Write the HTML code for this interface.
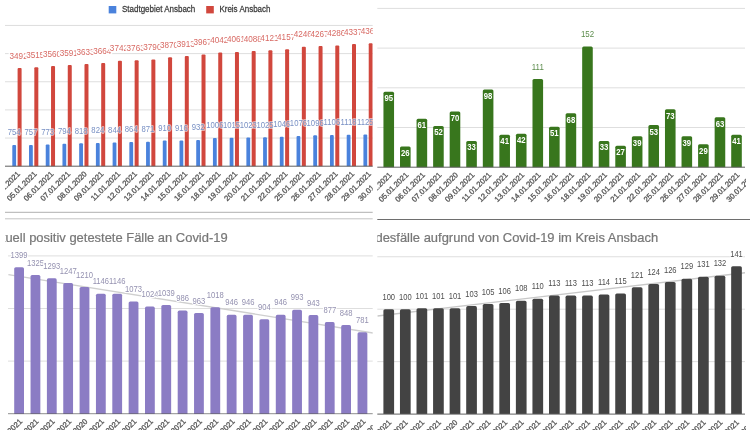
<!DOCTYPE html>
<html><head><meta charset="utf-8"><title>Covid-19 Ansbach</title>
<style>html,body{margin:0;padding:0;background:#fff;}body{width:750px;height:430px;overflow:hidden;}svg{display:block;filter:blur(0.5px);font-family:'Liberation Sans', Arial, sans-serif;}</style></head>
<body>
<svg width="750" height="430" viewBox="0 0 750 430">
<defs><clipPath id="cTL"><rect x="5" y="0" width="367.7" height="211"/></clipPath><clipPath id="cTR"><rect x="377.3" y="0" width="368.7" height="212"/></clipPath><clipPath id="cBL"><rect x="5" y="222" width="367.7" height="208"/></clipPath><clipPath id="cBR"><rect x="377.3" y="222" width="368.7" height="208"/></clipPath></defs>
<rect x="0" y="0" width="750" height="430" fill="#fff"/>
<g clip-path="url(#cTL)">
<rect x="108.7" y="6" width="7.6" height="7.4" fill="#4a82dc"/>
<text transform="translate(122,12.4) scale(0.89,1)" font-size="9" fill="#3a3a3a" text-anchor="start" stroke="#3a3a3a" stroke-width="0.25">Stadtgebiet Ansbach</text>
<rect x="206.2" y="6" width="7.6" height="7.4" fill="#d1473d"/>
<text transform="translate(219.4,12.4) scale(0.89,1)" font-size="9" fill="#3a3a3a" text-anchor="start" stroke="#3a3a3a" stroke-width="0.25">Kreis Ansbach</text>
<line x1="5" y1="138.05" x2="373" y2="138.05" stroke="#dedede" stroke-width="1"/>
<line x1="5" y1="109.9" x2="373" y2="109.9" stroke="#dedede" stroke-width="1"/>
<line x1="5" y1="81.75" x2="373" y2="81.75" stroke="#dedede" stroke-width="1"/>
<line x1="5" y1="53.6" x2="373" y2="53.6" stroke="#dedede" stroke-width="1"/>
<line x1="5" y1="25.45" x2="373" y2="25.45" stroke="#dedede" stroke-width="1"/>
<path d="M12.3,166.2V145.97Q12.3,144.97 13.3,144.97H15.1Q16.1,144.97 16.1,145.97V166.2Z" fill="#4a82dc"/>
<path d="M17.6,166.2V68.9Q17.6,67.9 18.6,67.9H20.6Q21.6,67.9 21.6,68.9V166.2Z" fill="#d1473d"/>
<path d="M29.02,166.2V145.89Q29.02,144.89 30.02,144.89H31.82Q32.82,144.89 32.82,145.89V166.2Z" fill="#4a82dc"/>
<path d="M34.32,166.2V68.25Q34.32,67.25 35.32,67.25H37.32Q38.32,67.25 38.32,68.25V166.2Z" fill="#d1473d"/>
<path d="M45.74,166.2V145.44Q45.74,144.44 46.74,144.44H48.54Q49.54,144.44 49.54,145.44V166.2Z" fill="#4a82dc"/>
<path d="M51.04,166.2V66.99Q51.04,65.99 52.04,65.99H54.04Q55.04,65.99 55.04,66.99V166.2Z" fill="#d1473d"/>
<path d="M62.46,166.2V144.85Q62.46,143.85 63.46,143.85H65.26Q66.26,143.85 66.26,144.85V166.2Z" fill="#4a82dc"/>
<path d="M67.76,166.2V66.11Q67.76,65.11 68.76,65.11H70.76Q71.76,65.11 71.76,66.11V166.2Z" fill="#d1473d"/>
<path d="M79.18,166.2V144.17Q79.18,143.17 80.18,143.17H81.98Q82.98,143.17 82.98,144.17V166.2Z" fill="#4a82dc"/>
<path d="M84.48,166.2V64.93Q84.48,63.93 85.48,63.93H87.48Q88.48,63.93 88.48,64.93V166.2Z" fill="#d1473d"/>
<path d="M95.9,166.2V144Q95.9,143 96.9,143H98.7Q99.7,143 99.7,144V166.2Z" fill="#4a82dc"/>
<path d="M101.2,166.2V64.06Q101.2,63.06 102.2,63.06H104.2Q105.2,63.06 105.2,64.06V166.2Z" fill="#d1473d"/>
<path d="M112.62,166.2V143.44Q112.62,142.44 113.62,142.44H115.42Q116.42,142.44 116.42,143.44V166.2Z" fill="#4a82dc"/>
<path d="M117.92,166.2V61.86Q117.92,60.86 118.92,60.86H120.92Q121.92,60.86 121.92,61.86V166.2Z" fill="#d1473d"/>
<path d="M129.34,166.2V142.88Q129.34,141.88 130.34,141.88H132.14Q133.14,141.88 133.14,142.88V166.2Z" fill="#4a82dc"/>
<path d="M134.64,166.2V61.27Q134.64,60.27 135.64,60.27H137.64Q138.64,60.27 138.64,61.27V166.2Z" fill="#d1473d"/>
<path d="M146.06,166.2V142.68Q146.06,141.68 147.06,141.68H148.86Q149.86,141.68 149.86,142.68V166.2Z" fill="#4a82dc"/>
<path d="M151.36,166.2V60.51Q151.36,59.51 152.36,59.51H154.36Q155.36,59.51 155.36,60.51V166.2Z" fill="#d1473d"/>
<path d="M162.78,166.2V141.58Q162.78,140.58 163.78,140.58H165.58Q166.58,140.58 166.58,141.58V166.2Z" fill="#4a82dc"/>
<path d="M168.08,166.2V58.26Q168.08,57.26 169.08,57.26H171.08Q172.08,57.26 172.08,58.26V166.2Z" fill="#d1473d"/>
<path d="M179.5,166.2V141.41Q179.5,140.41 180.5,140.41H182.3Q183.3,140.41 183.3,141.41V166.2Z" fill="#4a82dc"/>
<path d="M184.8,166.2V57.05Q184.8,56.05 185.8,56.05H187.8Q188.8,56.05 188.8,57.05V166.2Z" fill="#d1473d"/>
<path d="M196.22,166.2V140.96Q196.22,139.96 197.22,139.96H199.02Q200.02,139.96 200.02,140.96V166.2Z" fill="#4a82dc"/>
<path d="M201.52,166.2V55.53Q201.52,54.53 202.52,54.53H204.52Q205.52,54.53 205.52,55.53V166.2Z" fill="#d1473d"/>
<path d="M212.94,166.2V138.88Q212.94,137.88 213.94,137.88H215.74Q216.74,137.88 216.74,138.88V166.2Z" fill="#4a82dc"/>
<path d="M218.24,166.2V53.42Q218.24,52.42 219.24,52.42H221.24Q222.24,52.42 222.24,53.42V166.2Z" fill="#d1473d"/>
<path d="M229.66,166.2V138.63Q229.66,137.63 230.66,137.63H232.46Q233.46,137.63 233.46,138.63V166.2Z" fill="#4a82dc"/>
<path d="M234.96,166.2V52.88Q234.96,51.88 235.96,51.88H237.96Q238.96,51.88 238.96,52.88V166.2Z" fill="#d1473d"/>
<path d="M246.38,166.2V138.4Q246.38,137.4 247.38,137.4H249.18Q250.18,137.4 250.18,138.4V166.2Z" fill="#4a82dc"/>
<path d="M251.68,166.2V52.12Q251.68,51.12 252.68,51.12H254.68Q255.68,51.12 255.68,52.12V166.2Z" fill="#d1473d"/>
<path d="M263.1,166.2V138.35Q263.1,137.35 264.1,137.35H265.9Q266.9,137.35 266.9,138.35V166.2Z" fill="#4a82dc"/>
<path d="M268.4,166.2V51.19Q268.4,50.19 269.4,50.19H271.4Q272.4,50.19 272.4,51.19V166.2Z" fill="#d1473d"/>
<path d="M279.82,166.2V137.76Q279.82,136.76 280.82,136.76H282.62Q283.62,136.76 283.62,137.76V166.2Z" fill="#4a82dc"/>
<path d="M285.12,166.2V50.18Q285.12,49.18 286.12,49.18H288.12Q289.12,49.18 289.12,50.18V166.2Z" fill="#d1473d"/>
<path d="M296.54,166.2V136.91Q296.54,135.91 297.54,135.91H299.34Q300.34,135.91 300.34,136.91V166.2Z" fill="#4a82dc"/>
<path d="M301.84,166.2V47.68Q301.84,46.68 302.84,46.68H304.84Q305.84,46.68 305.84,47.68V166.2Z" fill="#d1473d"/>
<path d="M313.26,166.2V136.35Q313.26,135.35 314.26,135.35H316.06Q317.06,135.35 317.06,136.35V166.2Z" fill="#4a82dc"/>
<path d="M318.56,166.2V47.08Q318.56,46.08 319.56,46.08H321.56Q322.56,46.08 322.56,47.08V166.2Z" fill="#d1473d"/>
<path d="M329.98,166.2V136.07Q329.98,135.07 330.98,135.07H332.78Q333.78,135.07 333.78,136.07V166.2Z" fill="#4a82dc"/>
<path d="M335.28,166.2V46.55Q335.28,45.55 336.28,45.55H338.28Q339.28,45.55 339.28,46.55V166.2Z" fill="#d1473d"/>
<path d="M346.7,166.2V135.73Q346.7,134.73 347.7,134.73H349.5Q350.5,134.73 350.5,135.73V166.2Z" fill="#4a82dc"/>
<path d="M352,166.2V45.11Q352,44.11 353,44.11H355Q356,44.11 356,45.11V166.2Z" fill="#d1473d"/>
<path d="M363.42,166.2V135.53Q363.42,134.53 364.42,134.53H366.22Q367.22,134.53 367.22,135.53V166.2Z" fill="#4a82dc"/>
<path d="M368.72,166.2V44.3Q368.72,43.3 369.72,43.3H371.72Q372.72,43.3 372.72,44.3V166.2Z" fill="#d1473d"/>
<line x1="5" y1="166.2" x2="373" y2="166.2" stroke="#5f5f5f" stroke-width="1"/>
<text transform="translate(18.6,58.5) scale(0.97,1)" font-size="8.4" fill="#d86a64" text-anchor="middle" stroke="#fff" stroke-width="3" stroke-opacity="0.9" paint-order="stroke" stroke-linejoin="round">3492</text>
<text transform="translate(35.32,57.85) scale(0.97,1)" font-size="8.4" fill="#d86a64" text-anchor="middle" stroke="#fff" stroke-width="3" stroke-opacity="0.9" paint-order="stroke" stroke-linejoin="round">3515</text>
<text transform="translate(52.04,56.59) scale(0.97,1)" font-size="8.4" fill="#d86a64" text-anchor="middle" stroke="#fff" stroke-width="3" stroke-opacity="0.9" paint-order="stroke" stroke-linejoin="round">3560</text>
<text transform="translate(68.76,55.71) scale(0.97,1)" font-size="8.4" fill="#d86a64" text-anchor="middle" stroke="#fff" stroke-width="3" stroke-opacity="0.9" paint-order="stroke" stroke-linejoin="round">3591</text>
<text transform="translate(85.48,54.53) scale(0.97,1)" font-size="8.4" fill="#d86a64" text-anchor="middle" stroke="#fff" stroke-width="3" stroke-opacity="0.9" paint-order="stroke" stroke-linejoin="round">3633</text>
<text transform="translate(102.2,53.66) scale(0.97,1)" font-size="8.4" fill="#d86a64" text-anchor="middle" stroke="#fff" stroke-width="3" stroke-opacity="0.9" paint-order="stroke" stroke-linejoin="round">3664</text>
<text transform="translate(118.92,51.46) scale(0.97,1)" font-size="8.4" fill="#d86a64" text-anchor="middle" stroke="#fff" stroke-width="3" stroke-opacity="0.9" paint-order="stroke" stroke-linejoin="round">3742</text>
<text transform="translate(135.64,50.87) scale(0.97,1)" font-size="8.4" fill="#d86a64" text-anchor="middle" stroke="#fff" stroke-width="3" stroke-opacity="0.9" paint-order="stroke" stroke-linejoin="round">3763</text>
<text transform="translate(152.36,50.11) scale(0.97,1)" font-size="8.4" fill="#d86a64" text-anchor="middle" stroke="#fff" stroke-width="3" stroke-opacity="0.9" paint-order="stroke" stroke-linejoin="round">3790</text>
<text transform="translate(169.08,47.86) scale(0.97,1)" font-size="8.4" fill="#d86a64" text-anchor="middle" stroke="#fff" stroke-width="3" stroke-opacity="0.9" paint-order="stroke" stroke-linejoin="round">3870</text>
<text transform="translate(185.8,46.65) scale(0.97,1)" font-size="8.4" fill="#d86a64" text-anchor="middle" stroke="#fff" stroke-width="3" stroke-opacity="0.9" paint-order="stroke" stroke-linejoin="round">3913</text>
<text transform="translate(202.52,45.13) scale(0.97,1)" font-size="8.4" fill="#d86a64" text-anchor="middle" stroke="#fff" stroke-width="3" stroke-opacity="0.9" paint-order="stroke" stroke-linejoin="round">3967</text>
<text transform="translate(219.24,43.02) scale(0.97,1)" font-size="8.4" fill="#d86a64" text-anchor="middle" stroke="#fff" stroke-width="3" stroke-opacity="0.9" paint-order="stroke" stroke-linejoin="round">4042</text>
<text transform="translate(235.96,42.48) scale(0.97,1)" font-size="8.4" fill="#d86a64" text-anchor="middle" stroke="#fff" stroke-width="3" stroke-opacity="0.9" paint-order="stroke" stroke-linejoin="round">4061</text>
<text transform="translate(252.68,41.72) scale(0.97,1)" font-size="8.4" fill="#d86a64" text-anchor="middle" stroke="#fff" stroke-width="3" stroke-opacity="0.9" paint-order="stroke" stroke-linejoin="round">4088</text>
<text transform="translate(269.4,40.79) scale(0.97,1)" font-size="8.4" fill="#d86a64" text-anchor="middle" stroke="#fff" stroke-width="3" stroke-opacity="0.9" paint-order="stroke" stroke-linejoin="round">4121</text>
<text transform="translate(286.12,39.78) scale(0.97,1)" font-size="8.4" fill="#d86a64" text-anchor="middle" stroke="#fff" stroke-width="3" stroke-opacity="0.9" paint-order="stroke" stroke-linejoin="round">4157</text>
<text transform="translate(302.84,37.28) scale(0.97,1)" font-size="8.4" fill="#d86a64" text-anchor="middle" stroke="#fff" stroke-width="3" stroke-opacity="0.9" paint-order="stroke" stroke-linejoin="round">4246</text>
<text transform="translate(319.56,36.68) scale(0.97,1)" font-size="8.4" fill="#d86a64" text-anchor="middle" stroke="#fff" stroke-width="3" stroke-opacity="0.9" paint-order="stroke" stroke-linejoin="round">4267</text>
<text transform="translate(336.28,36.15) scale(0.97,1)" font-size="8.4" fill="#d86a64" text-anchor="middle" stroke="#fff" stroke-width="3" stroke-opacity="0.9" paint-order="stroke" stroke-linejoin="round">4286</text>
<text transform="translate(353,34.71) scale(0.97,1)" font-size="8.4" fill="#d86a64" text-anchor="middle" stroke="#fff" stroke-width="3" stroke-opacity="0.9" paint-order="stroke" stroke-linejoin="round">4337</text>
<text transform="translate(369.72,33.9) scale(0.97,1)" font-size="8.4" fill="#d86a64" text-anchor="middle" stroke="#fff" stroke-width="3" stroke-opacity="0.9" paint-order="stroke" stroke-linejoin="round">4366</text>
<text transform="translate(14.2,135.37) scale(0.92,1)" font-size="8.4" fill="#7890c4" text-anchor="middle" stroke="#fff" stroke-width="2" stroke-opacity="0.55" paint-order="stroke" stroke-linejoin="round">754</text>
<text transform="translate(30.92,135.29) scale(0.92,1)" font-size="8.4" fill="#7890c4" text-anchor="middle" stroke="#fff" stroke-width="2" stroke-opacity="0.55" paint-order="stroke" stroke-linejoin="round">757</text>
<text transform="translate(47.64,134.84) scale(0.92,1)" font-size="8.4" fill="#7890c4" text-anchor="middle" stroke="#fff" stroke-width="2" stroke-opacity="0.55" paint-order="stroke" stroke-linejoin="round">773</text>
<text transform="translate(64.36,134.25) scale(0.92,1)" font-size="8.4" fill="#7890c4" text-anchor="middle" stroke="#fff" stroke-width="2" stroke-opacity="0.55" paint-order="stroke" stroke-linejoin="round">794</text>
<text transform="translate(81.08,133.57) scale(0.92,1)" font-size="8.4" fill="#7890c4" text-anchor="middle" stroke="#fff" stroke-width="2" stroke-opacity="0.55" paint-order="stroke" stroke-linejoin="round">818</text>
<text transform="translate(97.8,133.4) scale(0.92,1)" font-size="8.4" fill="#7890c4" text-anchor="middle" stroke="#fff" stroke-width="2" stroke-opacity="0.55" paint-order="stroke" stroke-linejoin="round">824</text>
<text transform="translate(114.52,132.84) scale(0.92,1)" font-size="8.4" fill="#7890c4" text-anchor="middle" stroke="#fff" stroke-width="2" stroke-opacity="0.55" paint-order="stroke" stroke-linejoin="round">844</text>
<text transform="translate(131.24,132.28) scale(0.92,1)" font-size="8.4" fill="#7890c4" text-anchor="middle" stroke="#fff" stroke-width="2" stroke-opacity="0.55" paint-order="stroke" stroke-linejoin="round">864</text>
<text transform="translate(147.96,132.08) scale(0.92,1)" font-size="8.4" fill="#7890c4" text-anchor="middle" stroke="#fff" stroke-width="2" stroke-opacity="0.55" paint-order="stroke" stroke-linejoin="round">871</text>
<text transform="translate(164.68,130.98) scale(0.92,1)" font-size="8.4" fill="#7890c4" text-anchor="middle" stroke="#fff" stroke-width="2" stroke-opacity="0.55" paint-order="stroke" stroke-linejoin="round">910</text>
<text transform="translate(181.4,130.81) scale(0.92,1)" font-size="8.4" fill="#7890c4" text-anchor="middle" stroke="#fff" stroke-width="2" stroke-opacity="0.55" paint-order="stroke" stroke-linejoin="round">916</text>
<text transform="translate(198.12,130.36) scale(0.92,1)" font-size="8.4" fill="#7890c4" text-anchor="middle" stroke="#fff" stroke-width="2" stroke-opacity="0.55" paint-order="stroke" stroke-linejoin="round">932</text>
<text transform="translate(214.84,128.28) scale(0.92,1)" font-size="8.4" fill="#7890c4" text-anchor="middle" stroke="#fff" stroke-width="2" stroke-opacity="0.55" paint-order="stroke" stroke-linejoin="round">1006</text>
<text transform="translate(231.56,128.03) scale(0.92,1)" font-size="8.4" fill="#7890c4" text-anchor="middle" stroke="#fff" stroke-width="2" stroke-opacity="0.55" paint-order="stroke" stroke-linejoin="round">1015</text>
<text transform="translate(248.28,127.8) scale(0.92,1)" font-size="8.4" fill="#7890c4" text-anchor="middle" stroke="#fff" stroke-width="2" stroke-opacity="0.55" paint-order="stroke" stroke-linejoin="round">1023</text>
<text transform="translate(265,127.75) scale(0.92,1)" font-size="8.4" fill="#7890c4" text-anchor="middle" stroke="#fff" stroke-width="2" stroke-opacity="0.55" paint-order="stroke" stroke-linejoin="round">1025</text>
<text transform="translate(281.72,127.16) scale(0.92,1)" font-size="8.4" fill="#7890c4" text-anchor="middle" stroke="#fff" stroke-width="2" stroke-opacity="0.55" paint-order="stroke" stroke-linejoin="round">1046</text>
<text transform="translate(298.44,126.31) scale(0.92,1)" font-size="8.4" fill="#7890c4" text-anchor="middle" stroke="#fff" stroke-width="2" stroke-opacity="0.55" paint-order="stroke" stroke-linejoin="round">1076</text>
<text transform="translate(315.16,125.75) scale(0.92,1)" font-size="8.4" fill="#7890c4" text-anchor="middle" stroke="#fff" stroke-width="2" stroke-opacity="0.55" paint-order="stroke" stroke-linejoin="round">1096</text>
<text transform="translate(331.88,125.47) scale(0.92,1)" font-size="8.4" fill="#7890c4" text-anchor="middle" stroke="#fff" stroke-width="2" stroke-opacity="0.55" paint-order="stroke" stroke-linejoin="round">1106</text>
<text transform="translate(348.6,125.13) scale(0.92,1)" font-size="8.4" fill="#7890c4" text-anchor="middle" stroke="#fff" stroke-width="2" stroke-opacity="0.55" paint-order="stroke" stroke-linejoin="round">1118</text>
<text transform="translate(365.32,124.93) scale(0.92,1)" font-size="8.4" fill="#7890c4" text-anchor="middle" stroke="#fff" stroke-width="2" stroke-opacity="0.55" paint-order="stroke" stroke-linejoin="round">1125</text>
<text transform="translate(20.5,174.4) rotate(-45)" font-size="7.7" fill="#555555" stroke="#555555" stroke-width="0.3" text-anchor="end">04.01.2021</text>
<text transform="translate(37.22,174.4) rotate(-45)" font-size="7.7" fill="#555555" stroke="#555555" stroke-width="0.3" text-anchor="end">05.01.2021</text>
<text transform="translate(53.94,174.4) rotate(-45)" font-size="7.7" fill="#555555" stroke="#555555" stroke-width="0.3" text-anchor="end">06.01.2021</text>
<text transform="translate(70.66,174.4) rotate(-45)" font-size="7.7" fill="#555555" stroke="#555555" stroke-width="0.3" text-anchor="end">07.01.2021</text>
<text transform="translate(87.38,174.4) rotate(-45)" font-size="7.7" fill="#555555" stroke="#555555" stroke-width="0.3" text-anchor="end">08.01.2020</text>
<text transform="translate(104.1,174.4) rotate(-45)" font-size="7.7" fill="#555555" stroke="#555555" stroke-width="0.3" text-anchor="end">09.01.2021</text>
<text transform="translate(120.82,174.4) rotate(-45)" font-size="7.7" fill="#555555" stroke="#555555" stroke-width="0.3" text-anchor="end">11.01.2021</text>
<text transform="translate(137.54,174.4) rotate(-45)" font-size="7.7" fill="#555555" stroke="#555555" stroke-width="0.3" text-anchor="end">12.01.2021</text>
<text transform="translate(154.26,174.4) rotate(-45)" font-size="7.7" fill="#555555" stroke="#555555" stroke-width="0.3" text-anchor="end">13.01.2021</text>
<text transform="translate(170.98,174.4) rotate(-45)" font-size="7.7" fill="#555555" stroke="#555555" stroke-width="0.3" text-anchor="end">14.01.2021</text>
<text transform="translate(187.7,174.4) rotate(-45)" font-size="7.7" fill="#555555" stroke="#555555" stroke-width="0.3" text-anchor="end">15.01.2021</text>
<text transform="translate(204.42,174.4) rotate(-45)" font-size="7.7" fill="#555555" stroke="#555555" stroke-width="0.3" text-anchor="end">16.01.2021</text>
<text transform="translate(221.14,174.4) rotate(-45)" font-size="7.7" fill="#555555" stroke="#555555" stroke-width="0.3" text-anchor="end">18.01.2021</text>
<text transform="translate(237.86,174.4) rotate(-45)" font-size="7.7" fill="#555555" stroke="#555555" stroke-width="0.3" text-anchor="end">19.01.2021</text>
<text transform="translate(254.58,174.4) rotate(-45)" font-size="7.7" fill="#555555" stroke="#555555" stroke-width="0.3" text-anchor="end">20.01.2021</text>
<text transform="translate(271.3,174.4) rotate(-45)" font-size="7.7" fill="#555555" stroke="#555555" stroke-width="0.3" text-anchor="end">21.01.2021</text>
<text transform="translate(288.02,174.4) rotate(-45)" font-size="7.7" fill="#555555" stroke="#555555" stroke-width="0.3" text-anchor="end">22.01.2021</text>
<text transform="translate(304.74,174.4) rotate(-45)" font-size="7.7" fill="#555555" stroke="#555555" stroke-width="0.3" text-anchor="end">25.01.2021</text>
<text transform="translate(321.46,174.4) rotate(-45)" font-size="7.7" fill="#555555" stroke="#555555" stroke-width="0.3" text-anchor="end">26.01.2021</text>
<text transform="translate(338.18,174.4) rotate(-45)" font-size="7.7" fill="#555555" stroke="#555555" stroke-width="0.3" text-anchor="end">27.01.2021</text>
<text transform="translate(354.9,174.4) rotate(-45)" font-size="7.7" fill="#555555" stroke="#555555" stroke-width="0.3" text-anchor="end">28.01.2021</text>
<text transform="translate(371.62,174.4) rotate(-45)" font-size="7.7" fill="#555555" stroke="#555555" stroke-width="0.3" text-anchor="end">29.01.2021</text>
<text transform="translate(388.34,174.4) rotate(-45)" font-size="7.7" fill="#555555" stroke="#555555" stroke-width="0.3" text-anchor="end">30.01.2021</text>
</g>
<g clip-path="url(#cTR)">
<line x1="377" y1="127.5" x2="745" y2="127.5" stroke="#dedede" stroke-width="1"/>
<line x1="377" y1="87.8" x2="745" y2="87.8" stroke="#dedede" stroke-width="1"/>
<line x1="377" y1="48.1" x2="745" y2="48.1" stroke="#dedede" stroke-width="1"/>
<line x1="377" y1="8.4" x2="745" y2="8.4" stroke="#dedede" stroke-width="1"/>
<path d="M383.45,167.2V93.27Q383.45,91.77 384.95,91.77H392.55Q394.05,91.77 394.05,93.27V167.2Z" fill="#38761d"/>
<path d="M400.01,167.2V148.06Q400.01,146.56 401.51,146.56H409.11Q410.61,146.56 410.61,148.06V167.2Z" fill="#38761d"/>
<path d="M416.57,167.2V120.27Q416.57,118.77 418.07,118.77H425.67Q427.17,118.77 427.17,120.27V167.2Z" fill="#38761d"/>
<path d="M433.13,167.2V127.41Q433.13,125.91 434.63,125.91H442.23Q443.73,125.91 443.73,127.41V167.2Z" fill="#38761d"/>
<path d="M449.69,167.2V113.12Q449.69,111.62 451.19,111.62H458.79Q460.29,111.62 460.29,113.12V167.2Z" fill="#38761d"/>
<path d="M466.25,167.2V142.5Q466.25,141 467.75,141H475.35Q476.85,141 476.85,142.5V167.2Z" fill="#38761d"/>
<path d="M482.81,167.2V90.89Q482.81,89.39 484.31,89.39H491.91Q493.41,89.39 493.41,90.89V167.2Z" fill="#38761d"/>
<path d="M499.37,167.2V136.15Q499.37,134.65 500.87,134.65H508.47Q509.97,134.65 509.97,136.15V167.2Z" fill="#38761d"/>
<path d="M515.93,167.2V135.35Q515.93,133.85 517.43,133.85H525.03Q526.53,133.85 526.53,135.35V167.2Z" fill="#38761d"/>
<path d="M532.49,167.2V80.57Q532.49,79.07 533.99,79.07H541.59Q543.09,79.07 543.09,80.57V167.2Z" fill="#38761d"/>
<path d="M549.05,167.2V128.21Q549.05,126.71 550.55,126.71H558.15Q559.65,126.71 559.65,128.21V167.2Z" fill="#38761d"/>
<path d="M565.61,167.2V114.71Q565.61,113.21 567.11,113.21H574.71Q576.21,113.21 576.21,114.71V167.2Z" fill="#38761d"/>
<path d="M582.17,167.2V48.01Q582.17,46.51 583.67,46.51H591.27Q592.77,46.51 592.77,48.01V167.2Z" fill="#38761d"/>
<path d="M598.73,167.2V142.5Q598.73,141 600.23,141H607.83Q609.33,141 609.33,142.5V167.2Z" fill="#38761d"/>
<path d="M615.29,167.2V147.26Q615.29,145.76 616.79,145.76H624.39Q625.89,145.76 625.89,147.26V167.2Z" fill="#38761d"/>
<path d="M631.85,167.2V137.73Q631.85,136.23 633.35,136.23H640.95Q642.45,136.23 642.45,137.73V167.2Z" fill="#38761d"/>
<path d="M648.41,167.2V126.62Q648.41,125.12 649.91,125.12H657.51Q659.01,125.12 659.01,126.62V167.2Z" fill="#38761d"/>
<path d="M664.97,167.2V110.74Q664.97,109.24 666.47,109.24H674.07Q675.57,109.24 675.57,110.74V167.2Z" fill="#38761d"/>
<path d="M681.53,167.2V137.73Q681.53,136.23 683.03,136.23H690.63Q692.13,136.23 692.13,137.73V167.2Z" fill="#38761d"/>
<path d="M698.09,167.2V145.67Q698.09,144.17 699.59,144.17H707.19Q708.69,144.17 708.69,145.67V167.2Z" fill="#38761d"/>
<path d="M714.65,167.2V118.68Q714.65,117.18 716.15,117.18H723.75Q725.25,117.18 725.25,118.68V167.2Z" fill="#38761d"/>
<path d="M731.21,167.2V136.15Q731.21,134.65 732.71,134.65H740.31Q741.81,134.65 741.81,136.15V167.2Z" fill="#38761d"/>
<line x1="377" y1="167.2" x2="745" y2="167.2" stroke="#5f5f5f" stroke-width="1"/>
<text transform="translate(388.75,101.17) scale(0.9,1)" font-size="8.6" fill="#ffffff" text-anchor="middle" font-weight="bold">95</text>
<text transform="translate(405.31,155.96) scale(0.9,1)" font-size="8.6" fill="#ffffff" text-anchor="middle" font-weight="bold">26</text>
<text transform="translate(421.87,128.17) scale(0.9,1)" font-size="8.6" fill="#ffffff" text-anchor="middle" font-weight="bold">61</text>
<text transform="translate(438.43,135.31) scale(0.9,1)" font-size="8.6" fill="#ffffff" text-anchor="middle" font-weight="bold">52</text>
<text transform="translate(454.99,121.02) scale(0.9,1)" font-size="8.6" fill="#ffffff" text-anchor="middle" font-weight="bold">70</text>
<text transform="translate(471.55,150.4) scale(0.9,1)" font-size="8.6" fill="#ffffff" text-anchor="middle" font-weight="bold">33</text>
<text transform="translate(488.11,98.79) scale(0.9,1)" font-size="8.6" fill="#ffffff" text-anchor="middle" font-weight="bold">98</text>
<text transform="translate(504.67,144.05) scale(0.9,1)" font-size="8.6" fill="#ffffff" text-anchor="middle" font-weight="bold">41</text>
<text transform="translate(521.23,143.25) scale(0.9,1)" font-size="8.6" fill="#ffffff" text-anchor="middle" font-weight="bold">42</text>
<text transform="translate(537.79,69.87) scale(0.92,1)" font-size="8.6" fill="#5c8c4c" text-anchor="middle">111</text>
<text transform="translate(554.35,136.11) scale(0.9,1)" font-size="8.6" fill="#ffffff" text-anchor="middle" font-weight="bold">51</text>
<text transform="translate(570.91,122.61) scale(0.9,1)" font-size="8.6" fill="#ffffff" text-anchor="middle" font-weight="bold">68</text>
<text transform="translate(587.47,37.31) scale(0.92,1)" font-size="8.6" fill="#5c8c4c" text-anchor="middle">152</text>
<text transform="translate(604.03,150.4) scale(0.9,1)" font-size="8.6" fill="#ffffff" text-anchor="middle" font-weight="bold">33</text>
<text transform="translate(620.59,155.16) scale(0.9,1)" font-size="8.6" fill="#ffffff" text-anchor="middle" font-weight="bold">27</text>
<text transform="translate(637.15,145.63) scale(0.9,1)" font-size="8.6" fill="#ffffff" text-anchor="middle" font-weight="bold">39</text>
<text transform="translate(653.71,134.52) scale(0.9,1)" font-size="8.6" fill="#ffffff" text-anchor="middle" font-weight="bold">53</text>
<text transform="translate(670.27,118.64) scale(0.9,1)" font-size="8.6" fill="#ffffff" text-anchor="middle" font-weight="bold">73</text>
<text transform="translate(686.83,145.63) scale(0.9,1)" font-size="8.6" fill="#ffffff" text-anchor="middle" font-weight="bold">39</text>
<text transform="translate(703.39,153.57) scale(0.9,1)" font-size="8.6" fill="#ffffff" text-anchor="middle" font-weight="bold">29</text>
<text transform="translate(719.95,126.58) scale(0.9,1)" font-size="8.6" fill="#ffffff" text-anchor="middle" font-weight="bold">63</text>
<text transform="translate(736.51,144.05) scale(0.9,1)" font-size="8.6" fill="#ffffff" text-anchor="middle" font-weight="bold">41</text>
<text transform="translate(392.35,175.4) rotate(-45)" font-size="7.7" fill="#555555" stroke="#555555" stroke-width="0.3" text-anchor="end">04.01.2021</text>
<text transform="translate(408.91,175.4) rotate(-45)" font-size="7.7" fill="#555555" stroke="#555555" stroke-width="0.3" text-anchor="end">05.01.2021</text>
<text transform="translate(425.47,175.4) rotate(-45)" font-size="7.7" fill="#555555" stroke="#555555" stroke-width="0.3" text-anchor="end">06.01.2021</text>
<text transform="translate(442.03,175.4) rotate(-45)" font-size="7.7" fill="#555555" stroke="#555555" stroke-width="0.3" text-anchor="end">07.01.2021</text>
<text transform="translate(458.59,175.4) rotate(-45)" font-size="7.7" fill="#555555" stroke="#555555" stroke-width="0.3" text-anchor="end">08.01.2020</text>
<text transform="translate(475.15,175.4) rotate(-45)" font-size="7.7" fill="#555555" stroke="#555555" stroke-width="0.3" text-anchor="end">09.01.2021</text>
<text transform="translate(491.71,175.4) rotate(-45)" font-size="7.7" fill="#555555" stroke="#555555" stroke-width="0.3" text-anchor="end">11.01.2021</text>
<text transform="translate(508.27,175.4) rotate(-45)" font-size="7.7" fill="#555555" stroke="#555555" stroke-width="0.3" text-anchor="end">12.01.2021</text>
<text transform="translate(524.83,175.4) rotate(-45)" font-size="7.7" fill="#555555" stroke="#555555" stroke-width="0.3" text-anchor="end">13.01.2021</text>
<text transform="translate(541.39,175.4) rotate(-45)" font-size="7.7" fill="#555555" stroke="#555555" stroke-width="0.3" text-anchor="end">14.01.2021</text>
<text transform="translate(557.95,175.4) rotate(-45)" font-size="7.7" fill="#555555" stroke="#555555" stroke-width="0.3" text-anchor="end">15.01.2021</text>
<text transform="translate(574.51,175.4) rotate(-45)" font-size="7.7" fill="#555555" stroke="#555555" stroke-width="0.3" text-anchor="end">16.01.2021</text>
<text transform="translate(591.07,175.4) rotate(-45)" font-size="7.7" fill="#555555" stroke="#555555" stroke-width="0.3" text-anchor="end">18.01.2021</text>
<text transform="translate(607.63,175.4) rotate(-45)" font-size="7.7" fill="#555555" stroke="#555555" stroke-width="0.3" text-anchor="end">19.01.2021</text>
<text transform="translate(624.19,175.4) rotate(-45)" font-size="7.7" fill="#555555" stroke="#555555" stroke-width="0.3" text-anchor="end">20.01.2021</text>
<text transform="translate(640.75,175.4) rotate(-45)" font-size="7.7" fill="#555555" stroke="#555555" stroke-width="0.3" text-anchor="end">21.01.2021</text>
<text transform="translate(657.31,175.4) rotate(-45)" font-size="7.7" fill="#555555" stroke="#555555" stroke-width="0.3" text-anchor="end">22.01.2021</text>
<text transform="translate(673.87,175.4) rotate(-45)" font-size="7.7" fill="#555555" stroke="#555555" stroke-width="0.3" text-anchor="end">25.01.2021</text>
<text transform="translate(690.43,175.4) rotate(-45)" font-size="7.7" fill="#555555" stroke="#555555" stroke-width="0.3" text-anchor="end">26.01.2021</text>
<text transform="translate(706.99,175.4) rotate(-45)" font-size="7.7" fill="#555555" stroke="#555555" stroke-width="0.3" text-anchor="end">27.01.2021</text>
<text transform="translate(723.55,175.4) rotate(-45)" font-size="7.7" fill="#555555" stroke="#555555" stroke-width="0.3" text-anchor="end">28.01.2021</text>
<text transform="translate(740.11,175.4) rotate(-45)" font-size="7.7" fill="#555555" stroke="#555555" stroke-width="0.3" text-anchor="end">29.01.2021</text>
<text transform="translate(756.67,175.4) rotate(-45)" font-size="7.7" fill="#555555" stroke="#555555" stroke-width="0.3" text-anchor="end">30.01.2021</text>
</g>
<line x1="5" y1="212.3" x2="372.7" y2="212.3" stroke="#b0b0b0" stroke-width="1"/>
<line x1="5" y1="218.8" x2="372.7" y2="218.8" stroke="#c4c4c4" stroke-width="1"/>
<line x1="377.3" y1="219.5" x2="750" y2="219.5" stroke="#6e6e6e" stroke-width="1"/>
<g clip-path="url(#cBL)">
<text transform="translate(-13.3,241.5) scale(1.08,1)" font-size="12" fill="#777777" text-anchor="start" stroke="#777777" stroke-width="0.2">Aktuell positiv getestete Fälle an Covid-19</text>
<line x1="8" y1="361.1" x2="373" y2="361.1" stroke="#dedede" stroke-width="1"/>
<line x1="8" y1="308.5" x2="373" y2="308.5" stroke="#dedede" stroke-width="1"/>
<line x1="8" y1="255.9" x2="373" y2="255.9" stroke="#dedede" stroke-width="1"/>
<line x1="8.4" y1="274.6" x2="373" y2="333" stroke="#cfcfcf" stroke-width="1.4"/>
<path d="M14.2,414V268.73Q14.2,267.13 15.8,267.13H22.4Q24,267.13 24,268.73V414Z" fill="#8b7cc4"/>
<path d="M30.55,414V276.51Q30.55,274.91 32.15,274.91H38.75Q40.35,274.91 40.35,276.51V414Z" fill="#8b7cc4"/>
<path d="M46.9,414V279.88Q46.9,278.28 48.5,278.28H55.1Q56.7,278.28 56.7,279.88V414Z" fill="#8b7cc4"/>
<path d="M63.25,414V284.72Q63.25,283.12 64.85,283.12H71.45Q73.05,283.12 73.05,284.72V414Z" fill="#8b7cc4"/>
<path d="M79.6,414V288.61Q79.6,287.01 81.2,287.01H87.8Q89.4,287.01 89.4,288.61V414Z" fill="#8b7cc4"/>
<path d="M95.95,414V295.34Q95.95,293.74 97.55,293.74H104.15Q105.75,293.74 105.75,295.34V414Z" fill="#8b7cc4"/>
<path d="M112.3,414V295.34Q112.3,293.74 113.9,293.74H120.5Q122.1,293.74 122.1,295.34V414Z" fill="#8b7cc4"/>
<path d="M128.65,414V303.02Q128.65,301.42 130.25,301.42H136.85Q138.45,301.42 138.45,303.02V414Z" fill="#8b7cc4"/>
<path d="M145,414V308.18Q145,306.58 146.6,306.58H153.2Q154.8,306.58 154.8,308.18V414Z" fill="#8b7cc4"/>
<path d="M161.35,414V306.6Q161.35,305 162.95,305H169.55Q171.15,305 171.15,306.6V414Z" fill="#8b7cc4"/>
<path d="M177.7,414V312.17Q177.7,310.57 179.3,310.57H185.9Q187.5,310.57 187.5,312.17V414Z" fill="#8b7cc4"/>
<path d="M194.05,414V314.59Q194.05,312.99 195.65,312.99H202.25Q203.85,312.99 203.85,314.59V414Z" fill="#8b7cc4"/>
<path d="M210.4,414V308.81Q210.4,307.21 212,307.21H218.6Q220.2,307.21 220.2,308.81V414Z" fill="#8b7cc4"/>
<path d="M226.75,414V316.38Q226.75,314.78 228.35,314.78H234.95Q236.55,314.78 236.55,316.38V414Z" fill="#8b7cc4"/>
<path d="M243.1,414V316.38Q243.1,314.78 244.7,314.78H251.3Q252.9,314.78 252.9,316.38V414Z" fill="#8b7cc4"/>
<path d="M259.45,414V320.8Q259.45,319.2 261.05,319.2H267.65Q269.25,319.2 269.25,320.8V414Z" fill="#8b7cc4"/>
<path d="M275.8,414V316.38Q275.8,314.78 277.4,314.78H284Q285.6,314.78 285.6,316.38V414Z" fill="#8b7cc4"/>
<path d="M292.15,414V311.44Q292.15,309.84 293.75,309.84H300.35Q301.95,309.84 301.95,311.44V414Z" fill="#8b7cc4"/>
<path d="M308.5,414V316.7Q308.5,315.1 310.1,315.1H316.7Q318.3,315.1 318.3,316.7V414Z" fill="#8b7cc4"/>
<path d="M324.85,414V323.64Q324.85,322.04 326.45,322.04H333.05Q334.65,322.04 334.65,323.64V414Z" fill="#8b7cc4"/>
<path d="M341.2,414V326.69Q341.2,325.09 342.8,325.09H349.4Q351,325.09 351,326.69V414Z" fill="#8b7cc4"/>
<path d="M357.55,414V333.74Q357.55,332.14 359.15,332.14H365.75Q367.35,332.14 367.35,333.74V414Z" fill="#8b7cc4"/>
<line x1="8" y1="413.7" x2="373" y2="413.7" stroke="#5f5f5f" stroke-width="1" stroke-opacity="0.7"/>
<text transform="translate(19.1,257.73) scale(0.9,1)" font-size="8.5" fill="#9491b0" text-anchor="middle" stroke="#fff" stroke-width="2.2" stroke-opacity="1" paint-order="stroke" stroke-linejoin="round">1399</text>
<text transform="translate(35.45,265.51) scale(0.9,1)" font-size="8.5" fill="#9491b0" text-anchor="middle" stroke="#fff" stroke-width="2.2" stroke-opacity="1" paint-order="stroke" stroke-linejoin="round">1325</text>
<text transform="translate(51.8,268.88) scale(0.9,1)" font-size="8.5" fill="#9491b0" text-anchor="middle" stroke="#fff" stroke-width="2.2" stroke-opacity="1" paint-order="stroke" stroke-linejoin="round">1293</text>
<text transform="translate(68.15,273.72) scale(0.9,1)" font-size="8.5" fill="#9491b0" text-anchor="middle" stroke="#fff" stroke-width="2.2" stroke-opacity="1" paint-order="stroke" stroke-linejoin="round">1247</text>
<text transform="translate(84.5,277.61) scale(0.9,1)" font-size="8.5" fill="#9491b0" text-anchor="middle" stroke="#fff" stroke-width="2.2" stroke-opacity="1" paint-order="stroke" stroke-linejoin="round">1210</text>
<text transform="translate(100.85,284.34) scale(0.9,1)" font-size="8.5" fill="#9491b0" text-anchor="middle" stroke="#fff" stroke-width="2.2" stroke-opacity="1" paint-order="stroke" stroke-linejoin="round">1146</text>
<text transform="translate(117.2,284.34) scale(0.9,1)" font-size="8.5" fill="#9491b0" text-anchor="middle" stroke="#fff" stroke-width="2.2" stroke-opacity="1" paint-order="stroke" stroke-linejoin="round">1146</text>
<text transform="translate(133.55,292.02) scale(0.9,1)" font-size="8.5" fill="#9491b0" text-anchor="middle" stroke="#fff" stroke-width="2.2" stroke-opacity="1" paint-order="stroke" stroke-linejoin="round">1073</text>
<text transform="translate(149.9,297.18) scale(0.9,1)" font-size="8.5" fill="#9491b0" text-anchor="middle" stroke="#fff" stroke-width="2.2" stroke-opacity="1" paint-order="stroke" stroke-linejoin="round">1024</text>
<text transform="translate(166.25,295.6) scale(0.9,1)" font-size="8.5" fill="#9491b0" text-anchor="middle" stroke="#fff" stroke-width="2.2" stroke-opacity="1" paint-order="stroke" stroke-linejoin="round">1039</text>
<text transform="translate(182.6,301.17) scale(0.9,1)" font-size="8.5" fill="#9491b0" text-anchor="middle" stroke="#fff" stroke-width="2.2" stroke-opacity="1" paint-order="stroke" stroke-linejoin="round">986</text>
<text transform="translate(198.95,303.59) scale(0.9,1)" font-size="8.5" fill="#9491b0" text-anchor="middle" stroke="#fff" stroke-width="2.2" stroke-opacity="1" paint-order="stroke" stroke-linejoin="round">963</text>
<text transform="translate(215.3,297.81) scale(0.9,1)" font-size="8.5" fill="#9491b0" text-anchor="middle" stroke="#fff" stroke-width="2.2" stroke-opacity="1" paint-order="stroke" stroke-linejoin="round">1018</text>
<text transform="translate(231.65,305.38) scale(0.9,1)" font-size="8.5" fill="#9491b0" text-anchor="middle" stroke="#fff" stroke-width="2.2" stroke-opacity="1" paint-order="stroke" stroke-linejoin="round">946</text>
<text transform="translate(248,305.38) scale(0.9,1)" font-size="8.5" fill="#9491b0" text-anchor="middle" stroke="#fff" stroke-width="2.2" stroke-opacity="1" paint-order="stroke" stroke-linejoin="round">946</text>
<text transform="translate(264.35,309.8) scale(0.9,1)" font-size="8.5" fill="#9491b0" text-anchor="middle" stroke="#fff" stroke-width="2.2" stroke-opacity="1" paint-order="stroke" stroke-linejoin="round">904</text>
<text transform="translate(280.7,305.38) scale(0.9,1)" font-size="8.5" fill="#9491b0" text-anchor="middle" stroke="#fff" stroke-width="2.2" stroke-opacity="1" paint-order="stroke" stroke-linejoin="round">946</text>
<text transform="translate(297.05,300.44) scale(0.9,1)" font-size="8.5" fill="#9491b0" text-anchor="middle" stroke="#fff" stroke-width="2.2" stroke-opacity="1" paint-order="stroke" stroke-linejoin="round">993</text>
<text transform="translate(313.4,305.7) scale(0.9,1)" font-size="8.5" fill="#9491b0" text-anchor="middle" stroke="#fff" stroke-width="2.2" stroke-opacity="1" paint-order="stroke" stroke-linejoin="round">943</text>
<text transform="translate(329.75,312.64) scale(0.9,1)" font-size="8.5" fill="#9491b0" text-anchor="middle" stroke="#fff" stroke-width="2.2" stroke-opacity="1" paint-order="stroke" stroke-linejoin="round">877</text>
<text transform="translate(346.1,315.69) scale(0.9,1)" font-size="8.5" fill="#9491b0" text-anchor="middle" stroke="#fff" stroke-width="2.2" stroke-opacity="1" paint-order="stroke" stroke-linejoin="round">848</text>
<text transform="translate(362.45,322.74) scale(0.9,1)" font-size="8.5" fill="#9491b0" text-anchor="middle" stroke="#fff" stroke-width="2.2" stroke-opacity="1" paint-order="stroke" stroke-linejoin="round">781</text>
<text transform="translate(22.7,421.9) rotate(-45)" font-size="7.7" fill="#555555" stroke="#555555" stroke-width="0.3" text-anchor="end">04.01.2021</text>
<text transform="translate(39.05,421.9) rotate(-45)" font-size="7.7" fill="#555555" stroke="#555555" stroke-width="0.3" text-anchor="end">05.01.2021</text>
<text transform="translate(55.4,421.9) rotate(-45)" font-size="7.7" fill="#555555" stroke="#555555" stroke-width="0.3" text-anchor="end">06.01.2021</text>
<text transform="translate(71.75,421.9) rotate(-45)" font-size="7.7" fill="#555555" stroke="#555555" stroke-width="0.3" text-anchor="end">07.01.2021</text>
<text transform="translate(88.1,421.9) rotate(-45)" font-size="7.7" fill="#555555" stroke="#555555" stroke-width="0.3" text-anchor="end">08.01.2020</text>
<text transform="translate(104.45,421.9) rotate(-45)" font-size="7.7" fill="#555555" stroke="#555555" stroke-width="0.3" text-anchor="end">09.01.2021</text>
<text transform="translate(120.8,421.9) rotate(-45)" font-size="7.7" fill="#555555" stroke="#555555" stroke-width="0.3" text-anchor="end">11.01.2021</text>
<text transform="translate(137.15,421.9) rotate(-45)" font-size="7.7" fill="#555555" stroke="#555555" stroke-width="0.3" text-anchor="end">12.01.2021</text>
<text transform="translate(153.5,421.9) rotate(-45)" font-size="7.7" fill="#555555" stroke="#555555" stroke-width="0.3" text-anchor="end">13.01.2021</text>
<text transform="translate(169.85,421.9) rotate(-45)" font-size="7.7" fill="#555555" stroke="#555555" stroke-width="0.3" text-anchor="end">14.01.2021</text>
<text transform="translate(186.2,421.9) rotate(-45)" font-size="7.7" fill="#555555" stroke="#555555" stroke-width="0.3" text-anchor="end">15.01.2021</text>
<text transform="translate(202.55,421.9) rotate(-45)" font-size="7.7" fill="#555555" stroke="#555555" stroke-width="0.3" text-anchor="end">16.01.2021</text>
<text transform="translate(218.9,421.9) rotate(-45)" font-size="7.7" fill="#555555" stroke="#555555" stroke-width="0.3" text-anchor="end">18.01.2021</text>
<text transform="translate(235.25,421.9) rotate(-45)" font-size="7.7" fill="#555555" stroke="#555555" stroke-width="0.3" text-anchor="end">19.01.2021</text>
<text transform="translate(251.6,421.9) rotate(-45)" font-size="7.7" fill="#555555" stroke="#555555" stroke-width="0.3" text-anchor="end">20.01.2021</text>
<text transform="translate(267.95,421.9) rotate(-45)" font-size="7.7" fill="#555555" stroke="#555555" stroke-width="0.3" text-anchor="end">21.01.2021</text>
<text transform="translate(284.3,421.9) rotate(-45)" font-size="7.7" fill="#555555" stroke="#555555" stroke-width="0.3" text-anchor="end">22.01.2021</text>
<text transform="translate(300.65,421.9) rotate(-45)" font-size="7.7" fill="#555555" stroke="#555555" stroke-width="0.3" text-anchor="end">25.01.2021</text>
<text transform="translate(317,421.9) rotate(-45)" font-size="7.7" fill="#555555" stroke="#555555" stroke-width="0.3" text-anchor="end">26.01.2021</text>
<text transform="translate(333.35,421.9) rotate(-45)" font-size="7.7" fill="#555555" stroke="#555555" stroke-width="0.3" text-anchor="end">27.01.2021</text>
<text transform="translate(349.7,421.9) rotate(-45)" font-size="7.7" fill="#555555" stroke="#555555" stroke-width="0.3" text-anchor="end">28.01.2021</text>
<text transform="translate(366.05,421.9) rotate(-45)" font-size="7.7" fill="#555555" stroke="#555555" stroke-width="0.3" text-anchor="end">29.01.2021</text>
<text transform="translate(382.4,421.9) rotate(-45)" font-size="7.7" fill="#555555" stroke="#555555" stroke-width="0.3" text-anchor="end">30.01.2021</text>
</g>
<g clip-path="url(#cBR)">
<text transform="translate(361.8,242) scale(1.08,1)" font-size="12" fill="#777777" text-anchor="start" stroke="#777777" stroke-width="0.2">Todesfälle aufgrund von Covid-19 im Kreis Ansbach</text>
<line x1="377" y1="361.65" x2="745" y2="361.65" stroke="#dedede" stroke-width="1"/>
<line x1="377" y1="309.2" x2="745" y2="309.2" stroke="#dedede" stroke-width="1"/>
<line x1="377" y1="256.75" x2="745" y2="256.75" stroke="#dedede" stroke-width="1"/>
<line x1="377.4" y1="316" x2="745" y2="272.7" stroke="#c8c8c8" stroke-width="1.4"/>
<path d="M383.4,414.1V310.8Q383.4,309.2 385,309.2H392.5Q394.1,309.2 394.1,310.8V414.1Z" fill="#434343"/>
<path d="M399.96,414.1V310.8Q399.96,309.2 401.56,309.2H409.06Q410.66,309.2 410.66,310.8V414.1Z" fill="#434343"/>
<path d="M416.52,414.1V309.75Q416.52,308.15 418.12,308.15H425.62Q427.22,308.15 427.22,309.75V414.1Z" fill="#434343"/>
<path d="M433.08,414.1V309.75Q433.08,308.15 434.68,308.15H442.18Q443.78,308.15 443.78,309.75V414.1Z" fill="#434343"/>
<path d="M449.64,414.1V309.75Q449.64,308.15 451.24,308.15H458.74Q460.34,308.15 460.34,309.75V414.1Z" fill="#434343"/>
<path d="M466.2,414.1V307.65Q466.2,306.05 467.8,306.05H475.3Q476.9,306.05 476.9,307.65V414.1Z" fill="#434343"/>
<path d="M482.76,414.1V305.56Q482.76,303.96 484.36,303.96H491.86Q493.46,303.96 493.46,305.56V414.1Z" fill="#434343"/>
<path d="M499.32,414.1V304.51Q499.32,302.91 500.92,302.91H508.42Q510.02,302.91 510.02,304.51V414.1Z" fill="#434343"/>
<path d="M515.88,414.1V302.41Q515.88,300.81 517.48,300.81H524.98Q526.58,300.81 526.58,302.41V414.1Z" fill="#434343"/>
<path d="M532.44,414.1V300.31Q532.44,298.71 534.04,298.71H541.54Q543.14,298.71 543.14,300.31V414.1Z" fill="#434343"/>
<path d="M549,414.1V297.16Q549,295.56 550.6,295.56H558.1Q559.7,295.56 559.7,297.16V414.1Z" fill="#434343"/>
<path d="M565.56,414.1V297.16Q565.56,295.56 567.16,295.56H574.66Q576.26,295.56 576.26,297.16V414.1Z" fill="#434343"/>
<path d="M582.12,414.1V297.16Q582.12,295.56 583.72,295.56H591.22Q592.82,295.56 592.82,297.16V414.1Z" fill="#434343"/>
<path d="M598.68,414.1V296.11Q598.68,294.51 600.28,294.51H607.78Q609.38,294.51 609.38,296.11V414.1Z" fill="#434343"/>
<path d="M615.24,414.1V295.07Q615.24,293.47 616.84,293.47H624.34Q625.94,293.47 625.94,295.07V414.1Z" fill="#434343"/>
<path d="M631.8,414.1V288.77Q631.8,287.17 633.4,287.17H640.9Q642.5,287.17 642.5,288.77V414.1Z" fill="#434343"/>
<path d="M648.36,414.1V285.62Q648.36,284.02 649.96,284.02H657.46Q659.06,284.02 659.06,285.62V414.1Z" fill="#434343"/>
<path d="M664.92,414.1V283.53Q664.92,281.93 666.52,281.93H674.02Q675.62,281.93 675.62,283.53V414.1Z" fill="#434343"/>
<path d="M681.48,414.1V280.38Q681.48,278.78 683.08,278.78H690.58Q692.18,278.78 692.18,280.38V414.1Z" fill="#434343"/>
<path d="M698.04,414.1V278.28Q698.04,276.68 699.64,276.68H707.14Q708.74,276.68 708.74,278.28V414.1Z" fill="#434343"/>
<path d="M714.6,414.1V277.23Q714.6,275.63 716.2,275.63H723.7Q725.3,275.63 725.3,277.23V414.1Z" fill="#434343"/>
<path d="M731.16,414.1V267.79Q731.16,266.19 732.76,266.19H740.26Q741.86,266.19 741.86,267.79V414.1Z" fill="#434343"/>
<line x1="377" y1="414.1" x2="745" y2="414.1" stroke="#5f5f5f" stroke-width="1"/>
<text transform="translate(388.75,299.8) scale(0.88,1)" font-size="8.6" fill="#4e4e4e" text-anchor="middle" stroke="#fff" stroke-width="2.2" stroke-opacity="1" paint-order="stroke" stroke-linejoin="round">100</text>
<text transform="translate(405.31,299.8) scale(0.88,1)" font-size="8.6" fill="#4e4e4e" text-anchor="middle" stroke="#fff" stroke-width="2.2" stroke-opacity="1" paint-order="stroke" stroke-linejoin="round">100</text>
<text transform="translate(421.87,298.75) scale(0.88,1)" font-size="8.6" fill="#4e4e4e" text-anchor="middle" stroke="#fff" stroke-width="2.2" stroke-opacity="1" paint-order="stroke" stroke-linejoin="round">101</text>
<text transform="translate(438.43,298.75) scale(0.88,1)" font-size="8.6" fill="#4e4e4e" text-anchor="middle" stroke="#fff" stroke-width="2.2" stroke-opacity="1" paint-order="stroke" stroke-linejoin="round">101</text>
<text transform="translate(454.99,298.75) scale(0.88,1)" font-size="8.6" fill="#4e4e4e" text-anchor="middle" stroke="#fff" stroke-width="2.2" stroke-opacity="1" paint-order="stroke" stroke-linejoin="round">101</text>
<text transform="translate(471.55,296.65) scale(0.88,1)" font-size="8.6" fill="#4e4e4e" text-anchor="middle" stroke="#fff" stroke-width="2.2" stroke-opacity="1" paint-order="stroke" stroke-linejoin="round">103</text>
<text transform="translate(488.11,294.56) scale(0.88,1)" font-size="8.6" fill="#4e4e4e" text-anchor="middle" stroke="#fff" stroke-width="2.2" stroke-opacity="1" paint-order="stroke" stroke-linejoin="round">105</text>
<text transform="translate(504.67,293.51) scale(0.88,1)" font-size="8.6" fill="#4e4e4e" text-anchor="middle" stroke="#fff" stroke-width="2.2" stroke-opacity="1" paint-order="stroke" stroke-linejoin="round">106</text>
<text transform="translate(521.23,291.41) scale(0.88,1)" font-size="8.6" fill="#4e4e4e" text-anchor="middle" stroke="#fff" stroke-width="2.2" stroke-opacity="1" paint-order="stroke" stroke-linejoin="round">108</text>
<text transform="translate(537.79,289.31) scale(0.88,1)" font-size="8.6" fill="#4e4e4e" text-anchor="middle" stroke="#fff" stroke-width="2.2" stroke-opacity="1" paint-order="stroke" stroke-linejoin="round">110</text>
<text transform="translate(554.35,286.16) scale(0.88,1)" font-size="8.6" fill="#4e4e4e" text-anchor="middle" stroke="#fff" stroke-width="2.2" stroke-opacity="1" paint-order="stroke" stroke-linejoin="round">113</text>
<text transform="translate(570.91,286.16) scale(0.88,1)" font-size="8.6" fill="#4e4e4e" text-anchor="middle" stroke="#fff" stroke-width="2.2" stroke-opacity="1" paint-order="stroke" stroke-linejoin="round">113</text>
<text transform="translate(587.47,286.16) scale(0.88,1)" font-size="8.6" fill="#4e4e4e" text-anchor="middle" stroke="#fff" stroke-width="2.2" stroke-opacity="1" paint-order="stroke" stroke-linejoin="round">113</text>
<text transform="translate(604.03,285.11) scale(0.88,1)" font-size="8.6" fill="#4e4e4e" text-anchor="middle" stroke="#fff" stroke-width="2.2" stroke-opacity="1" paint-order="stroke" stroke-linejoin="round">114</text>
<text transform="translate(620.59,284.07) scale(0.88,1)" font-size="8.6" fill="#4e4e4e" text-anchor="middle" stroke="#fff" stroke-width="2.2" stroke-opacity="1" paint-order="stroke" stroke-linejoin="round">115</text>
<text transform="translate(637.15,277.77) scale(0.88,1)" font-size="8.6" fill="#4e4e4e" text-anchor="middle" stroke="#fff" stroke-width="2.2" stroke-opacity="1" paint-order="stroke" stroke-linejoin="round">121</text>
<text transform="translate(653.71,274.62) scale(0.88,1)" font-size="8.6" fill="#4e4e4e" text-anchor="middle" stroke="#fff" stroke-width="2.2" stroke-opacity="1" paint-order="stroke" stroke-linejoin="round">124</text>
<text transform="translate(670.27,272.53) scale(0.88,1)" font-size="8.6" fill="#4e4e4e" text-anchor="middle" stroke="#fff" stroke-width="2.2" stroke-opacity="1" paint-order="stroke" stroke-linejoin="round">126</text>
<text transform="translate(686.83,269.38) scale(0.88,1)" font-size="8.6" fill="#4e4e4e" text-anchor="middle" stroke="#fff" stroke-width="2.2" stroke-opacity="1" paint-order="stroke" stroke-linejoin="round">129</text>
<text transform="translate(703.39,267.28) scale(0.88,1)" font-size="8.6" fill="#4e4e4e" text-anchor="middle" stroke="#fff" stroke-width="2.2" stroke-opacity="1" paint-order="stroke" stroke-linejoin="round">131</text>
<text transform="translate(719.95,266.23) scale(0.88,1)" font-size="8.6" fill="#4e4e4e" text-anchor="middle" stroke="#fff" stroke-width="2.2" stroke-opacity="1" paint-order="stroke" stroke-linejoin="round">132</text>
<text transform="translate(736.51,256.79) scale(0.88,1)" font-size="8.6" fill="#4e4e4e" text-anchor="middle" stroke="#fff" stroke-width="2.2" stroke-opacity="1" paint-order="stroke" stroke-linejoin="round">141</text>
<text transform="translate(391.75,422.9) rotate(-45)" font-size="7.7" fill="#555555" stroke="#555555" stroke-width="0.3" text-anchor="end">04.01.2021</text>
<text transform="translate(408.31,422.9) rotate(-45)" font-size="7.7" fill="#555555" stroke="#555555" stroke-width="0.3" text-anchor="end">05.01.2021</text>
<text transform="translate(424.87,422.9) rotate(-45)" font-size="7.7" fill="#555555" stroke="#555555" stroke-width="0.3" text-anchor="end">06.01.2021</text>
<text transform="translate(441.43,422.9) rotate(-45)" font-size="7.7" fill="#555555" stroke="#555555" stroke-width="0.3" text-anchor="end">07.01.2021</text>
<text transform="translate(457.99,422.9) rotate(-45)" font-size="7.7" fill="#555555" stroke="#555555" stroke-width="0.3" text-anchor="end">08.01.2020</text>
<text transform="translate(474.55,422.9) rotate(-45)" font-size="7.7" fill="#555555" stroke="#555555" stroke-width="0.3" text-anchor="end">09.01.2021</text>
<text transform="translate(491.11,422.9) rotate(-45)" font-size="7.7" fill="#555555" stroke="#555555" stroke-width="0.3" text-anchor="end">11.01.2021</text>
<text transform="translate(507.67,422.9) rotate(-45)" font-size="7.7" fill="#555555" stroke="#555555" stroke-width="0.3" text-anchor="end">12.01.2021</text>
<text transform="translate(524.23,422.9) rotate(-45)" font-size="7.7" fill="#555555" stroke="#555555" stroke-width="0.3" text-anchor="end">13.01.2021</text>
<text transform="translate(540.79,422.9) rotate(-45)" font-size="7.7" fill="#555555" stroke="#555555" stroke-width="0.3" text-anchor="end">14.01.2021</text>
<text transform="translate(557.35,422.9) rotate(-45)" font-size="7.7" fill="#555555" stroke="#555555" stroke-width="0.3" text-anchor="end">15.01.2021</text>
<text transform="translate(573.91,422.9) rotate(-45)" font-size="7.7" fill="#555555" stroke="#555555" stroke-width="0.3" text-anchor="end">16.01.2021</text>
<text transform="translate(590.47,422.9) rotate(-45)" font-size="7.7" fill="#555555" stroke="#555555" stroke-width="0.3" text-anchor="end">18.01.2021</text>
<text transform="translate(607.03,422.9) rotate(-45)" font-size="7.7" fill="#555555" stroke="#555555" stroke-width="0.3" text-anchor="end">19.01.2021</text>
<text transform="translate(623.59,422.9) rotate(-45)" font-size="7.7" fill="#555555" stroke="#555555" stroke-width="0.3" text-anchor="end">20.01.2021</text>
<text transform="translate(640.15,422.9) rotate(-45)" font-size="7.7" fill="#555555" stroke="#555555" stroke-width="0.3" text-anchor="end">21.01.2021</text>
<text transform="translate(656.71,422.9) rotate(-45)" font-size="7.7" fill="#555555" stroke="#555555" stroke-width="0.3" text-anchor="end">22.01.2021</text>
<text transform="translate(673.27,422.9) rotate(-45)" font-size="7.7" fill="#555555" stroke="#555555" stroke-width="0.3" text-anchor="end">25.01.2021</text>
<text transform="translate(689.83,422.9) rotate(-45)" font-size="7.7" fill="#555555" stroke="#555555" stroke-width="0.3" text-anchor="end">26.01.2021</text>
<text transform="translate(706.39,422.9) rotate(-45)" font-size="7.7" fill="#555555" stroke="#555555" stroke-width="0.3" text-anchor="end">27.01.2021</text>
<text transform="translate(722.95,422.9) rotate(-45)" font-size="7.7" fill="#555555" stroke="#555555" stroke-width="0.3" text-anchor="end">28.01.2021</text>
<text transform="translate(739.51,422.9) rotate(-45)" font-size="7.7" fill="#555555" stroke="#555555" stroke-width="0.3" text-anchor="end">29.01.2021</text>
<text transform="translate(756.07,422.9) rotate(-45)" font-size="7.7" fill="#555555" stroke="#555555" stroke-width="0.3" text-anchor="end">30.01.2021</text>
</g>
</svg>
</body></html>
